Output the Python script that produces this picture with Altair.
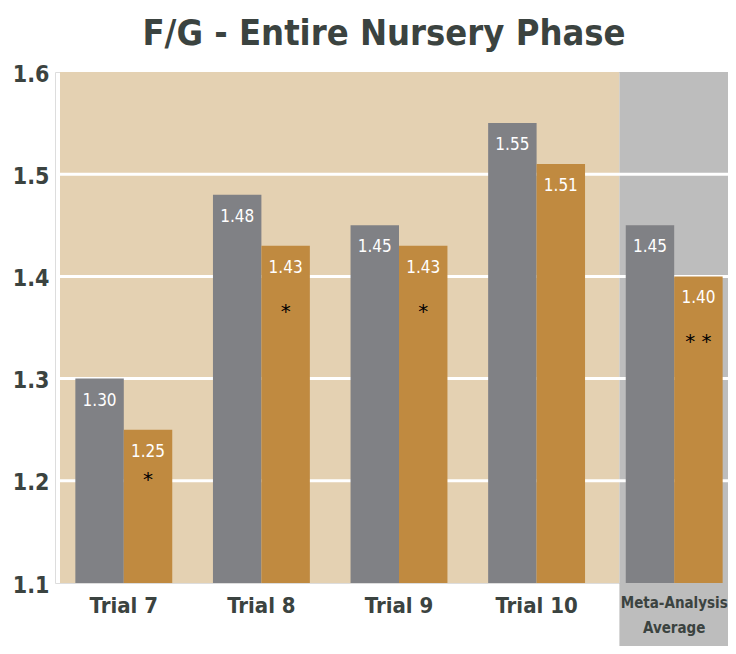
import altair as alt
import pandas as pd

# ---- data ----
categories = ["Trial 7", "Trial 8", "Trial 9", "Trial 10", "Meta-Analysis Average"]
series = ["Control", "Treatment"]
control = [1.30, 1.48, 1.45, 1.55, 1.45]
treatment = [1.25, 1.43, 1.43, 1.51, 1.40]
significance = ["*", "*", "*", "", "**"]
y_ticks = [1.1, 1.2, 1.3, 1.4, 1.5, 1.6]
grid_values = [1.2, 1.3, 1.4, 1.5]
trial_span = ["Trial 7", "Trial 10"]
meta_span = ["Meta-Analysis Average", "Meta-Analysis Average"]

rows = []
for i, c in enumerate(categories):
    rows.append({"cat": c, "series": series[0], "value": control[i], "sig": ""})
    rows.append({"cat": c, "series": series[1], "value": treatment[i], "sig": significance[i]})
bars_df = pd.DataFrame(rows)
grid_df = pd.DataFrame({"g": grid_values})
beige_df = pd.DataFrame({"start": [trial_span[0]], "end": [trial_span[1]]})
meta_df = pd.DataFrame({"start": [meta_span[0]], "end": [meta_span[1]]})

FONT = "'DejaVu Sans Condensed', 'DejaVu Sans', sans-serif"
DARK = "#3b4340"
BEIGE = "#e4d1b2"
GREYBG = "#bdbdbd"
BAR_GREY = "#808185"
BAR_GOLD = "#c08a40"

W, H = 688, 511
xscale = alt.Scale(domain=categories, paddingInner=0, paddingOuter=0)
yscale = alt.Scale(domain=[1.1, 1.6], zero=False, nice=False)

x_axis = alt.Axis(
    title=None, domain=False, ticks=False, labelAngle=0,
    labelFont=FONT, labelFontWeight="bold", labelColor=DARK,
    labelFontSize=alt.condition("datum.value == 'Meta-Analysis Average'", alt.value(15), alt.value(22)),
    labelExpr="datum.value == 'Meta-Analysis Average' ? ['Meta-Analysis', 'Average'] : datum.value",
    labelLineHeight=25, labelBaseline="top", labelPadding=12,
    labelOverlap=False, labelBound=False, zindex=1,
)
y_axis = alt.Axis(
    values=y_ticks, format=".1f", title=None, domain=False, ticks=False, grid=False,
    labelFont=FONT, labelFontWeight="bold", labelFontSize=23, labelColor=DARK,
    labelPadding=6, labelOffset=2,
)

beige = alt.Chart(beige_df).mark_rect(color=BEIGE, xOffset=5, x2Offset=14).encode(
    x=alt.X("start:N", bandPosition=0, scale=xscale, axis=x_axis),
    x2=alt.X2("end", bandPosition=1),
    y=alt.datum(1.6, scale=yscale, axis=y_axis),
    y2=alt.datum(1.1),
)
meta = alt.Chart(meta_df).mark_rect(color=GREYBG, xOffset=14, x2Offset=20, y2Offset=63).encode(
    x=alt.X("start:N", bandPosition=0, scale=xscale, axis=x_axis),
    x2=alt.X2("end", bandPosition=1),
    y=alt.datum(1.6, scale=yscale, axis=y_axis),
    y2=alt.datum(1.1),
)
grid = alt.Chart(grid_df).mark_rule(color="white", strokeWidth=3).encode(
    y=alt.Y("g:Q", scale=yscale, axis=y_axis),
    x=alt.value(5),
    x2=alt.value(W),
)

xoff = alt.XOffset("series:N", scale=alt.Scale(domain=series, paddingOuter=0.42, paddingInner=0), sort=series)
xenc = alt.X("cat:N", scale=xscale, sort=categories, axis=x_axis)
yenc = alt.Y("value:Q", scale=yscale, axis=y_axis)

bars = alt.Chart(bars_df).mark_bar().encode(
    x=xenc,
    xOffset=xoff,
    y=yenc,
    y2=alt.datum(1.1),
    color=alt.Color("series:N", scale=alt.Scale(domain=series, range=[BAR_GREY, BAR_GOLD]), legend=None),
)
labels = alt.Chart(bars_df).mark_text(
    font=FONT, fontSize=17, color="white", baseline="middle", dy=22
).encode(
    x=xenc, xOffset=xoff, y=yenc,
    text=alt.Text("value:Q", format=".2f"),
)
stars_main = alt.Chart(bars_df).transform_filter(
    "datum.sig != '' && datum.cat != 'Trial 7'"
).transform_calculate(
    mark_text="join(split(datum.sig, ''), ' ')"
).mark_text(font="DejaVu Sans", fontSize=20, color="black", baseline="middle", dy=66).encode(
    x=xenc, xOffset=xoff, y=yenc,
    text="mark_text:N",
)
stars_t7 = alt.Chart(bars_df).transform_filter(
    "datum.sig != '' && datum.cat == 'Trial 7'"
).transform_calculate(
    mark_text="join(split(datum.sig, ''), ' ')"
).mark_text(font="DejaVu Sans", fontSize=20, color="black", baseline="middle", dy=50).encode(
    x=xenc, xOffset=xoff, y=yenc,
    text="mark_text:N",
)

chart = alt.layer(beige, meta, grid, bars, labels, stars_main, stars_t7).properties(
    width=W, height=H,
    title=alt.TitleParams(
        "F/G - Entire Nursery Phase", font=FONT, fontSize=36, fontWeight="bold",
        color=DARK, anchor="middle", baseline="alphabetic", offset=-18, dx=-15,
    ),
    autosize=alt.AutoSizeParams(type="none"),
    padding={"left": 47, "top": 64, "right": -15, "bottom": 63},
).configure_view(stroke=None).configure(background="white")

chart.save("out.html", embed_options={"renderer": "svg", "actions": False})
